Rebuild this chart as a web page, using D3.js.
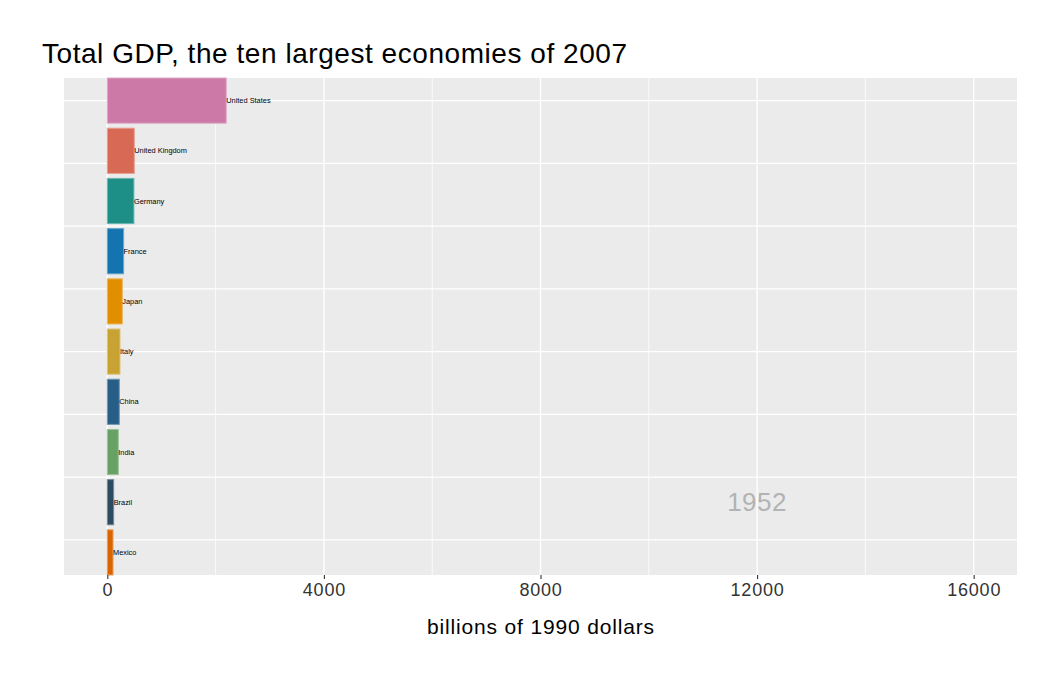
<!DOCTYPE html>
<html lang="en">
  <head>
    <meta charset="UTF-8" />
    <title>Total GDP, the ten largest economies of 2007</title>
    <style type="text/css">
      body {
        margin: 0;
        background: #ffffff;
        font-family: "Liberation Sans", Arial, Helvetica, sans-serif;
      }
      svg {
        display: block;
      }
      .grid-major {
        stroke: #ffffff;
        stroke-width: 1.4px;
      }
      .grid-minor {
        stroke: #ffffff;
        stroke-width: 0.8px;
      }
      .bar-label {
        font-size: 7.4px;
        fill: #000000;
      }
    </style>
  </head>
  <body>
    <script src="https://d3js.org/d3.v7.min.js"></script>
    <script>
      // data for the 1952 frame
      var countries = ["United States", "United Kingdom", "Germany", "France", "Japan",
        "Italy", "China", "India", "Brazil", "Mexico"];
      var gdp = [2196, 498, 491, 301, 277, 234, 221, 203, 117, 105];
      var ranks = [1, 2, 3, 4, 5, 6, 7, 8, 9, 10];
      var colors = ["#CC79A7", "#D86A55", "#1D8F86", "#1474B0", "#E18E00",
        "#C8A232", "#265E88", "#67A163", "#2C4A60", "#DA6500"];
      var xTicks = [0, 4000, 8000, 12000, 16000];
      var xMinor = [2000, 6000, 10000, 14000];
      var yGrid = [1, 2.25, 3.5, 4.75, 6, 7.25, 8.5, 9.75];
      var year = "1952";

      var width = 1050;
      var height = 675;
      var panel = { left: 64, right: 1017, top: 78, bottom: 575 };

      var svg = d3.select("body").append("svg")
        .attr("width", width)
        .attr("height", height);

      var x = d3.scaleLinear()
        .domain([-800, 16800])
        .range([panel.left, panel.right]);
      var y = d3.scaleLinear()
        .domain([0.55, 10.45])
        .range([panel.top, panel.bottom]);

      svg.append("rect")
        .attr("x", panel.left)
        .attr("y", panel.top)
        .attr("width", panel.right - panel.left)
        .attr("height", panel.bottom - panel.top)
        .attr("fill", "#EBEBEB");

      var grid = svg.append("g");
      grid.selectAll(".gx-minor")
        .data(xMinor)
        .join("line")
        .attr("class", "grid-minor")
        .attr("x1", (d) => x(d)).attr("x2", (d) => x(d))
        .attr("y1", panel.top).attr("y2", panel.bottom);
      grid.selectAll(".gx-major")
        .data(xTicks)
        .join("line")
        .attr("class", "grid-major")
        .attr("x1", (d) => x(d)).attr("x2", (d) => x(d))
        .attr("y1", panel.top).attr("y2", panel.bottom);
      grid.selectAll(".gy")
        .data(yGrid)
        .join("line")
        .attr("class", "grid-major")
        .attr("x1", panel.left).attr("x2", panel.right)
        .attr("y1", (d) => y(d)).attr("y2", (d) => y(d));

      // year stamp
      svg.append("text")
        .attr("x", x(12000))
        .attr("y", y(9))
        .attr("dy", "0.35em")
        .attr("text-anchor", "middle")
        .attr("font-size", 26)
        .attr("letter-spacing", 0.5)
        .attr("fill", "#B3B3B3")
        .text(year);

      var bars = svg.append("g")
        .selectAll(".bar")
        .data(countries)
        .join("g")
        .attr("class", "bar");

      bars.append("rect")
        .attr("x", x(0))
        .attr("y", (d, i) => y(ranks[i] - 0.45))
        .attr("width", (d, i) => x(gdp[i]) - x(0))
        .attr("height", y(0.9) - y(0))
        .attr("fill", (d, i) => colors[i])
        .attr("stroke", (d, i) => d3.interpolateRgb(colors[i], "#ffffff")(0.35))
        .attr("stroke-width", 1);

      bars.append("text")
        .attr("class", "bar-label")
        .attr("x", (d, i) => x(gdp[i]))
        .attr("y", (d, i) => y(ranks[i]))
        .attr("dy", "0.35em")
        .text((d) => d);

      // x axis
      var xAxis = svg.append("g")
        .attr("transform", `translate(0,${panel.bottom})`)
        .call(d3.axisBottom(x).tickValues(xTicks).tickSize(4).tickPadding(4).tickFormat(d3.format("d")));
      xAxis.select(".domain").remove();
      xAxis.selectAll(".tick line").attr("stroke", "#333333").attr("stroke-width", 1.1);
      xAxis.selectAll(".tick text")
        .attr("font-family", "'Liberation Sans', Arial, sans-serif")
        .attr("font-size", 18)
        .attr("letter-spacing", 0.8)
        .attr("fill", "#333333");

      svg.append("text")
        .attr("x", 427)
        .attr("y", 634)
        .attr("textLength", 227)
        .attr("lengthAdjust", "spacing")
        .attr("font-size", 21)
        .attr("fill", "#000000")
        .text("billions of 1990 dollars");

      svg.append("text")
        .attr("x", 42)
        .attr("y", 63)
        .attr("textLength", 585)
        .attr("lengthAdjust", "spacing")
        .attr("font-size", 28)
        .attr("fill", "#000000")
        .text("Total GDP, the ten largest economies of 2007");
    </script>
  </body>
</html>
